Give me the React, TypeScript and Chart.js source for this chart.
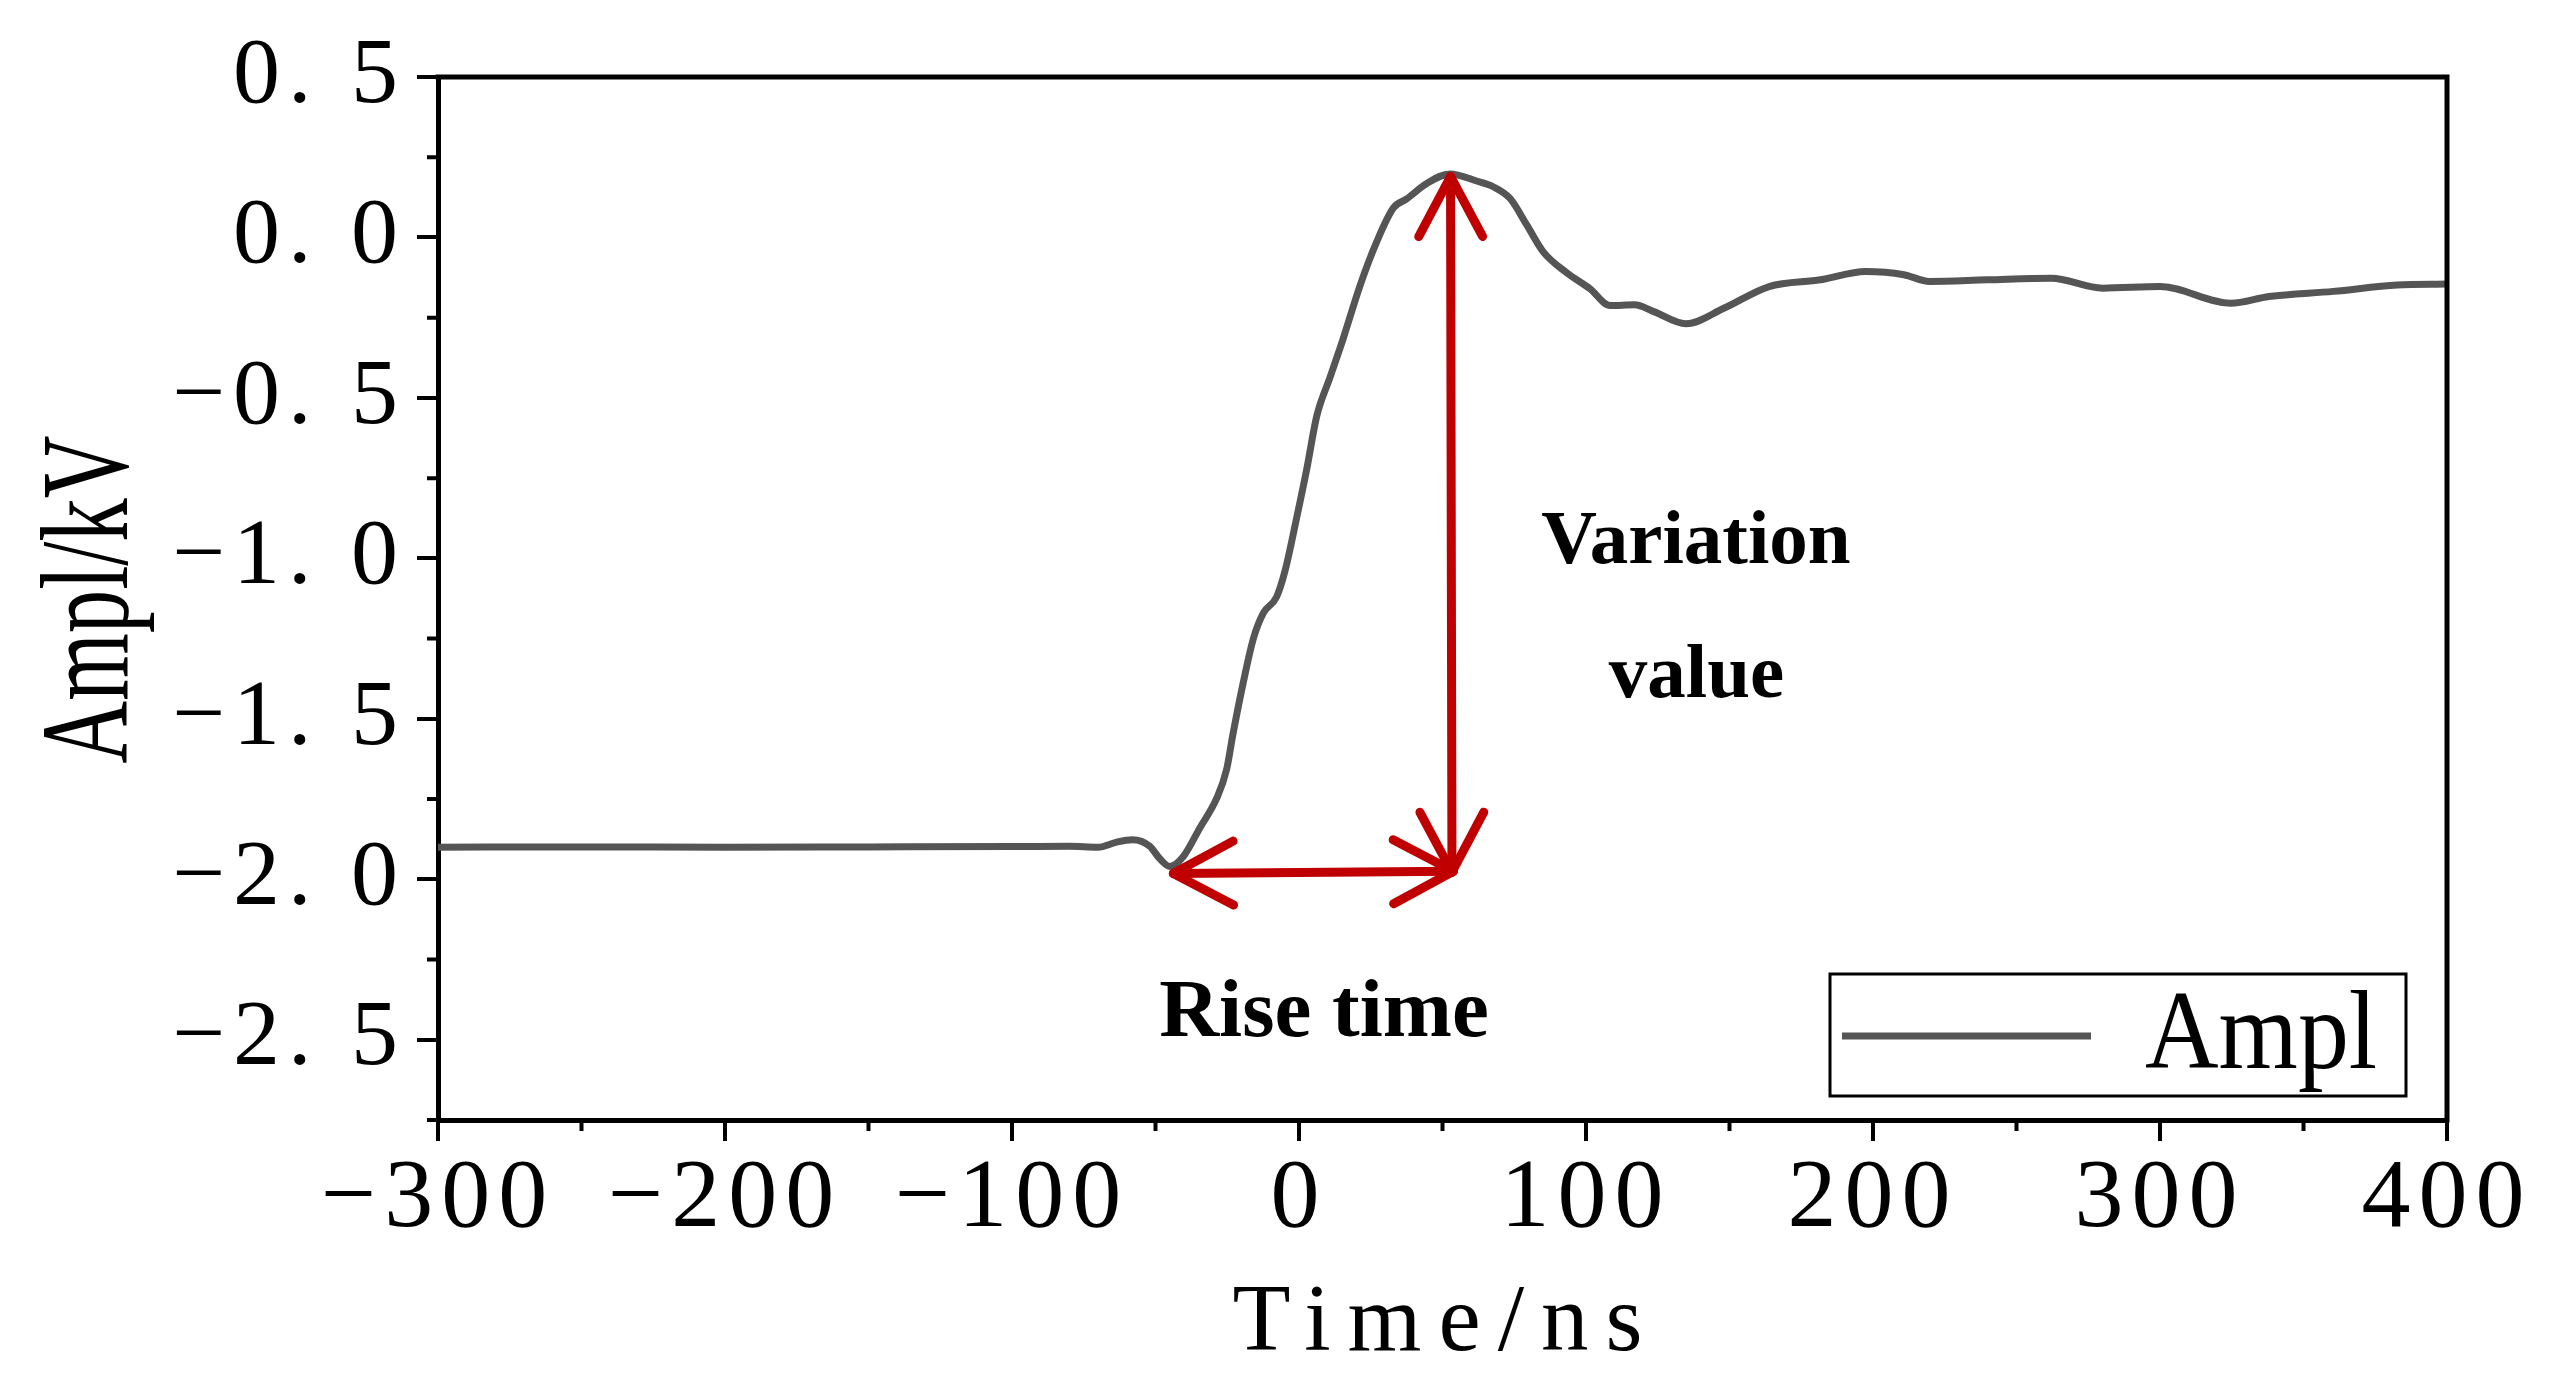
import React, { useEffect, useRef } from 'react';
import { Chart, registerables } from 'chart.js';

Chart.register(...registerables);

// ---- data ----
const timeNs = [
  -300, -250, -200, -150, -100, -80, -70, -63.5, -58, -52, -48.4, -45, -40.3, -34.5,
  -28.7, -25.2, -23.1, -19.4, -15.9, -12.4, -7.8, -4.9, -0.8, 2.7, 6.2, 10.8, 15.4,
  21.3, 27.1, 32.9, 37.5, 44.5, 52.6, 61.9, 67.7, 73.5, 79.3, 85.1, 93.3, 101.4, 108.4,
  116.9, 123.6, 134.8, 148.2, 163.8, 181.7, 197.4, 210.8, 219.7, 239.8, 262.1, 280,
  300.1, 324.6, 338, 360.4, 382.7, 400,
];
const amplKV = [
  -1.9, -1.899, -1.9, -1.899, -1.898, -1.897, -1.9, -1.884, -1.877, -1.897, -1.937, -1.96,
  -1.929, -1.839, -1.748, -1.657, -1.552, -1.386, -1.25, -1.17, -1.12, -1.04, -0.873,
  -0.722, -0.556, -0.436, -0.315, -0.149, -0.013, 0.092, 0.12, 0.168, 0.198, 0.176,
  0.158, 0.122, 0.04, -0.045, -0.11, -0.16, -0.212, -0.21, -0.231, -0.269, -0.22, -0.153,
  -0.132, -0.106, -0.116, -0.137, -0.132, -0.127, -0.158, -0.153, -0.205, -0.184, -0.168,
  -0.148, -0.145,
];
const seriesLabel = 'Ampl';
const xTitle = 'Time/ns';
const yTitle = 'Ampl/kV';
const xRange = [-300, 400];
const xStep = 100;
const yRange = [-2.75, 0.5];
const yStep = 0.5;

// annotation arrows in data coordinates: [time, value]
const riseArrowFrom = [-43.8, -1.982];
const riseArrowTo = [53.8, -1.975];
const variationArrowFrom = [53.3, -1.978];
const variationArrowTo = [52.8, 0.19];
// annotation texts in data coordinates (centre x, baseline y)
const annotationTexts = [
  { text: 'Variation', t: 138.3, v: -1.013 },
  { text: 'value', t: 138.5, v: -1.433 },
  { text: 'Rise time', t: 8.7, v: -2.489 },
];

const LINE_COLOR = '#555555';
const ARROW_COLOR = '#c00000';
const SERIF = '"Liberation Serif", "Times New Roman", serif';

function drawHead(ctx: CanvasRenderingContext2D, tx: number, ty: number, fx: number, fy: number) {
  const ang = Math.atan2(fy - ty, fx - tx);
  const len = 68;
  const spread = (28 * Math.PI) / 180;
  ctx.beginPath();
  ctx.moveTo(tx + len * Math.cos(ang + spread), ty + len * Math.sin(ang + spread));
  ctx.lineTo(tx, ty);
  ctx.lineTo(tx + len * Math.cos(ang - spread), ty + len * Math.sin(ang - spread));
  ctx.stroke();
}

function drawDoubleArrow(chart: any, a: number[], b: number[]) {
  const ctx = chart.ctx as CanvasRenderingContext2D;
  const xs = chart.scales.x;
  const ys = chart.scales.y;
  const x1 = xs.getPixelForValue(a[0]);
  const y1 = ys.getPixelForValue(a[1]);
  const x2 = xs.getPixelForValue(b[0]);
  const y2 = ys.getPixelForValue(b[1]);
  ctx.save();
  ctx.strokeStyle = ARROW_COLOR;
  ctx.lineWidth = 9;
  ctx.lineCap = 'round';
  ctx.lineJoin = 'round';
  ctx.beginPath();
  ctx.moveTo(x1, y1);
  ctx.lineTo(x2, y2);
  ctx.stroke();
  drawHead(ctx, x1, y1, x2, y2);
  drawHead(ctx, x2, y2, x1, y1);
  ctx.restore();
}

const decorPlugin = {
  id: 'decor',
  beforeDraw(chart: any) {
    (chart.ctx as any).letterSpacing = '8px';
  },
  beforeDatasetsDraw(chart: any) {
    (chart.ctx as any).letterSpacing = '0px';
  },
  afterDraw(chart: any) {
    const ctx = chart.ctx as CanvasRenderingContext2D;
    const ca = chart.chartArea;
    const xs = chart.scales.x;
    const ys = chart.scales.y;
    ctx.save();
    (ctx as any).letterSpacing = '0px';

    // top and right frame lines
    ctx.strokeStyle = '#000';
    ctx.lineWidth = 5;
    ctx.beginPath();
    ctx.moveTo(ca.left - 2.5, ca.top);
    ctx.lineTo(ca.right, ca.top);
    ctx.lineTo(ca.right, ca.bottom + 2.5);
    ctx.stroke();

    // minor ticks
    ctx.lineWidth = 4;
    ctx.beginPath();
    const nMinorY = Math.round((yRange[1] - yRange[0]) / (yStep / 2));
    for (let k = 0; k < nMinorY; k++) {
      const v = yRange[0] + k * (yStep / 2);
      if (Math.abs(v / yStep - Math.round(v / yStep)) < 1e-6) continue;
      const py = ys.getPixelForValue(v);
      ctx.moveTo(ca.left - 11, py);
      ctx.lineTo(ca.left, py);
    }
    for (let v = xRange[0] + xStep / 2; v < xRange[1]; v += xStep) {
      const px = xs.getPixelForValue(v);
      ctx.moveTo(px, ca.bottom);
      ctx.lineTo(px, ca.bottom + 11);
    }
    ctx.stroke();

    // arrows
    drawDoubleArrow(chart, riseArrowFrom, riseArrowTo);
    drawDoubleArrow(chart, variationArrowFrom, variationArrowTo);

    // annotation texts
    ctx.fillStyle = '#000';
    ctx.textAlign = 'center';
    ctx.textBaseline = 'alphabetic';
    annotationTexts.forEach((a, i) => {
      ctx.font = `bold ${i === 2 ? 83 : 77}px ${SERIF}`;
      ctx.fillText(a.text, xs.getPixelForValue(a.t), ys.getPixelForValue(a.v));
    });

    // x-axis title
    ctx.font = `95px ${SERIF}`;
    (ctx as any).letterSpacing = '17px';
    const w = ctx.measureText(xTitle).width - 17;
    ctx.textAlign = 'left';
    ctx.fillText(xTitle, (ca.left + ca.right) / 2 - 5 - w / 2, ca.bottom + 230);
    (ctx as any).letterSpacing = '0px';

    // y-axis title (condensed, rotated)
    ctx.save();
    ctx.translate(127, (ca.top + ca.bottom) / 2 + 1);
    ctx.rotate(-Math.PI / 2);
    ctx.scale(0.7, 1);
    ctx.font = `124px ${SERIF}`;
    ctx.textAlign = 'center';
    ctx.fillText(yTitle, 0, 0);
    ctx.restore();

    // legend
    const ds = chart.data.datasets[0];
    const bx = ca.right - 41 - 576;
    const by = ca.bottom - 24 - 122;
    ctx.strokeStyle = '#000';
    ctx.lineWidth = 3;
    ctx.strokeRect(bx, by, 576, 122);
    ctx.strokeStyle = ds.borderColor;
    ctx.lineWidth = 7;
    ctx.beginPath();
    ctx.moveTo(bx + 12, by + 62);
    ctx.lineTo(bx + 261, by + 62);
    ctx.stroke();
    ctx.save();
    ctx.translate(bx + 315, by + 94);
    ctx.scale(0.91, 1);
    ctx.font = `112px ${SERIF}`;
    ctx.textAlign = 'left';
    ctx.fillStyle = '#000';
    ctx.fillText(ds.label, 0, 0);
    ctx.restore();

    ctx.restore();
  },
};

export default function App() {
  const ref = useRef<HTMLCanvasElement | null>(null);
  useEffect(() => {
    if (!ref.current) return;
    const points = timeNs.map((t, i) => ({ x: t, y: amplKV[i] }));
    const chart = new Chart(ref.current, {
      type: 'line',
      data: {
        datasets: [
          {
            label: seriesLabel,
            data: points,
            borderColor: LINE_COLOR,
            borderWidth: 7,
            pointRadius: 0,
            cubicInterpolationMode: 'monotone',
            fill: false,
          },
        ],
      },
      options: {
        animation: false,
        responsive: false,
        devicePixelRatio: 1,
        layout: { padding: { top: 77, right: 111, left: 0, bottom: 0 } },
        plugins: { legend: { display: false }, tooltip: { enabled: false } },
        scales: {
          x: {
            type: 'linear',
            min: xRange[0],
            max: xRange[1],
            afterFit: (s: any) => {
              s.height = 272;
            },
            grid: {
              drawOnChartArea: false,
              drawTicks: true,
              tickLength: 21,
              tickWidth: 4,
              lineWidth: 4,
              color: '#000',
            },
            border: { display: true, width: 5, color: '#000' },
            ticks: {
              stepSize: xStep,
              autoSkip: false,
              maxRotation: 0,
              padding: 0,
              color: '#000',
              font: { family: SERIF, size: 98 },
              callback: (v: any) => (v < 0 ? '\u2212' + Math.abs(v) : String(v)),
            },
          },
          y: {
            type: 'linear',
            min: yRange[0],
            max: yRange[1],
            afterFit: (s: any) => {
              s.width = 438;
            },
            grid: {
              drawOnChartArea: false,
              drawTicks: true,
              tickLength: 21,
              tickWidth: 4,
              lineWidth: 4,
              color: '#000',
            },
            border: { display: true, width: 5, color: '#000' },
            ticks: {
              stepSize: yStep,
              includeBounds: false,
              autoSkip: false,
              padding: 11,
              color: '#000',
              font: { family: SERIF, size: 94 },
              callback: (v: any) => {
                const s = Math.abs(v).toFixed(1).replace('.', '. ');
                return (v < -1e-9 ? '\u2212' : '') + s;
              },
            },
          },
        },
      } as any,
      plugins: [decorPlugin],
    });
    return () => chart.destroy();
  }, []);
  return (
    <div style={{ position: 'fixed', left: 0, top: 0, width: 2558, height: 1392, background: '#fff' }}>
      <canvas ref={ref} width={2558} height={1392} style={{ display: 'block', width: 2558, height: 1392 }} />
    </div>
  );
}
